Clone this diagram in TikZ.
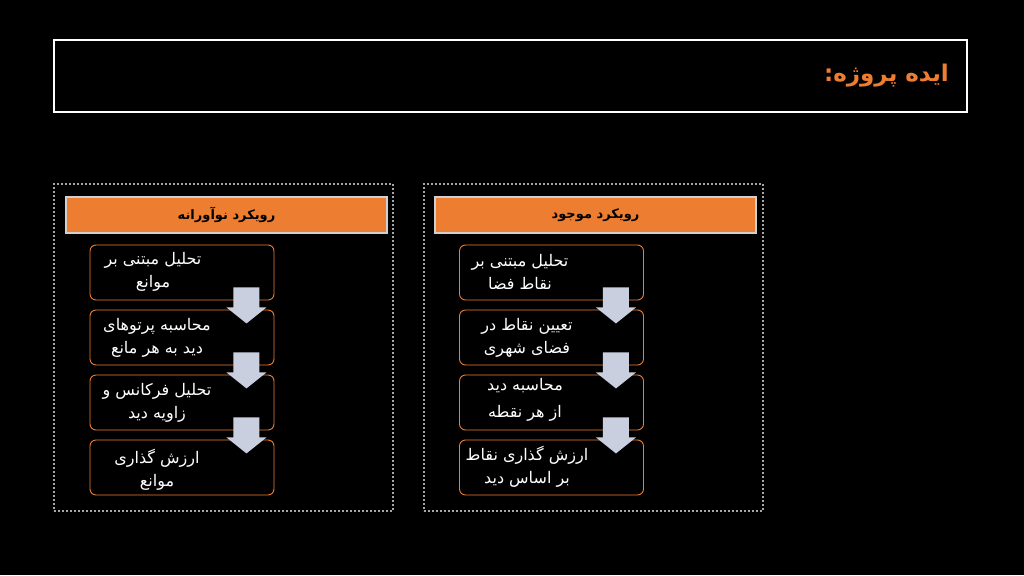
\documentclass[tikz,border=0pt]{standalone}
\usepackage{fontspec}
\newfontfamily\arabicfont[Script=Arabic]{DejaVu Sans}
\TeXXeTstate=1
\usetikzlibrary{calc}
\definecolor{orng}{HTML}{ED7D31}
\definecolor{arrowc}{HTML}{C9CFDF}
\definecolor{dotc}{HTML}{A6A6A6}
\definecolor{hdrborder}{HTML}{D0D0D0}
\newcommand\blockarrow[1]{%
  \begin{scope}[shift={(#1.south east)}]
    \fill[arrowc] (-41,-13) -- (-15,-13) -- (-15,7) -- (-8,7) -- (-28,23) -- (-48,7) -- (-41,7) -- cycle;
  \end{scope}}
\begin{document}
\begin{tikzpicture}[x=1pt,y=-1pt,
  titlebox/.style={draw=white,line width=2pt,minimum width=913pt,minimum height=72pt,inner sep=0pt},
  dotframe/.style={draw=dotc,line width=2pt,dash pattern=on 2pt off 2pt,minimum width=339pt,minimum height=327pt,inner sep=0pt},
  hdr/.style={fill=orng,draw=hdrborder,line width=1.2pt,minimum width=321pt,minimum height=36pt,inner sep=0pt,font=\arabicfont\bfseries\fontsize{13}{15}\selectfont,text=black},
  stepbox/.style={draw=orng,fill=black,line width=0.9pt,rounded corners=6pt,minimum width=184pt,minimum height=55pt,inner sep=0pt},
  steptext/.style={text=white,align=center,inner sep=0pt,font=\arabicfont\fontsize{16}{23}\selectfont},
  ttltext/.style={text=orng,anchor=east,inner sep=0pt,font=\arabicfont\bfseries\fontsize{23}{26}\selectfont}]
\fill[black] (0,0) rectangle (1024,575);
\useasboundingbox (0,0) rectangle (1024,575);
% title
\node[titlebox] (title) at (510.5,76) {};
\node[ttltext] (ttl) at (949,76) {\beginR ایده پروژه:\endR};
% frames
\node[dotframe] (LF) at (223.5,347.5) {};
\node[dotframe] (RF) at (593,347.5) {};
% headers
\node[hdr] (LH) at (226.5,215) {\beginR رویکرد نوآورانه\endR};
\node[hdr] (RH) at (595.5,215) {\beginR رویکرد موجود\endR};
% left boxes
\node[stepbox] (L1) at (182,272.5) {};
\node[stepbox] (L2) at (182,337.5) {};
\node[stepbox] (L3) at (182,402.5) {};
\node[stepbox] (L4) at (182,467.5) {};
% right boxes
\node[stepbox] (R1) at (551.5,272.5) {};
\node[stepbox] (R2) at (551.5,337.5) {};
\node[stepbox] (R3) at (551.5,402.5) {};
\node[stepbox] (R4) at (551.5,467.5) {};
% left texts
\node[steptext] (L1t) at (153,271.5) {\beginR تحلیل مبتنی بر\endR\\\beginR موانع\endR};
\node[steptext] (L2t) at (157,337.5) {\beginR محاسبه پرتوهای\endR\\\beginR دید به هر مانع\endR};
\node[steptext] (L3t) at (157,402.5) {\beginR تحلیل فرکانس و\endR\\\beginR زاویه دید\endR};
\node[steptext] (L4t) at (157,469.5) {\beginR ارزش گذاری\endR\\\beginR موانع\endR};
% right texts
\node[steptext] (R1t) at (520,271.5) {\beginR تحلیل مبتنی بر\endR\\\beginR نقاط فضا\endR};
\node[steptext] (R2t) at (527,337.5) {\beginR تعیین نقاط در\endR\\\beginR فضای شهری\endR};
\node[steptext] (R3t) at (525,399.5) {\beginR محاسبه دید\endR\\[4pt]\beginR از هر نقطه\endR};
\node[steptext] (R4t) at (527,467) {\beginR ارزش گذاری نقاط\endR\\\beginR بر اساس دید\endR};
% arrows
\blockarrow{L1}\blockarrow{L2}\blockarrow{L3}
\blockarrow{R1}\blockarrow{R2}\blockarrow{R3}
\end{tikzpicture}
\end{document}
